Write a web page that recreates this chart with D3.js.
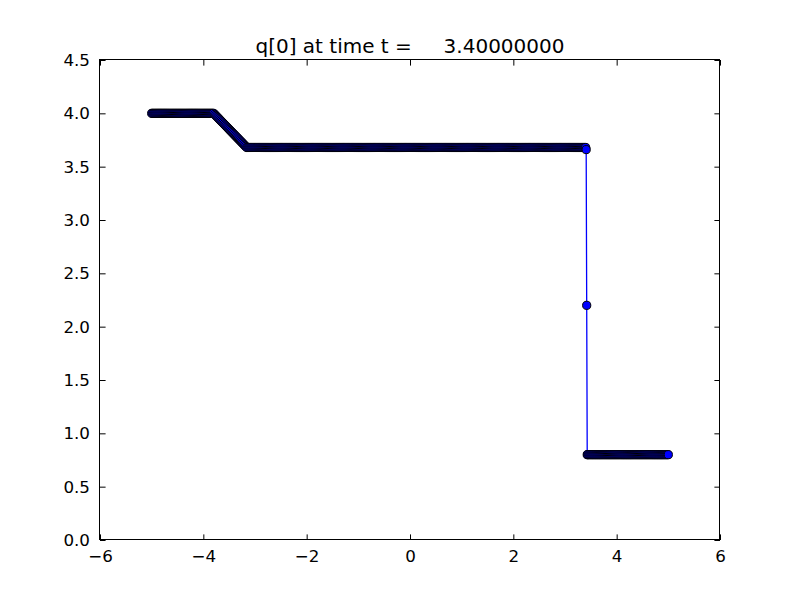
<!DOCTYPE html>
<html>
<head>
<meta charset="utf-8">
<script src="https://cdn.jsdelivr.net/npm/d3@7"></script>
<style>
html,body{margin:0;padding:0;background:#fff;}
svg{display:block;font-family:"DejaVu Sans",sans-serif;}
</style>
</head>
<body>
<svg id="chart" width="800" height="600"></svg>
<script>
const titleText = "q[0] at time t =     3.40000000";
const xTicks = [-6, -4, -2, 0, 2, 4, 6];
const yTicks = [0.0, 0.5, 1.0, 1.5, 2.0, 2.5, 3.0, 3.5, 4.0, 4.5];

const xs = [
-5.00,-4.98,-4.96,-4.94,-4.92,-4.90,-4.88,-4.86,-4.84,-4.82,-4.80,-4.78,-4.76,-4.74,-4.72,-4.70,-4.68,-4.66,-4.64,-4.62,-4.60,-4.58,-4.56,-4.54,-4.52,-4.50,-4.48,-4.46,-4.44,-4.42,-4.40,-4.38,-4.36,-4.34,-4.32,-4.30,-4.28,-4.26,-4.24,-4.22,-4.20,-4.18,-4.16,-4.14,-4.12,-4.10,-4.08,-4.06,-4.04,-4.02,
-4.00,-3.98,-3.96,-3.94,-3.92,-3.90,-3.88,-3.86,-3.84,-3.82,-3.80,-3.78,-3.76,-3.74,-3.72,-3.70,-3.68,-3.66,-3.64,-3.62,-3.60,-3.58,-3.56,-3.54,-3.52,-3.50,-3.48,-3.46,-3.44,-3.42,-3.40,-3.38,-3.36,-3.34,-3.32,-3.30,-3.28,-3.26,-3.24,-3.22,-3.20,-3.18,-3.16,-3.14,-3.12,-3.10,-3.08,-3.06,-3.04,-3.02,
-3.00,-2.98,-2.96,-2.94,-2.92,-2.90,-2.88,-2.86,-2.84,-2.82,-2.80,-2.78,-2.76,-2.74,-2.72,-2.70,-2.68,-2.66,-2.64,-2.62,-2.60,-2.58,-2.56,-2.54,-2.52,-2.50,-2.48,-2.46,-2.44,-2.42,-2.40,-2.38,-2.36,-2.34,-2.32,-2.30,-2.28,-2.26,-2.24,-2.22,-2.20,-2.18,-2.16,-2.14,-2.12,-2.10,-2.08,-2.06,-2.04,-2.02,
-2.00,-1.98,-1.96,-1.94,-1.92,-1.90,-1.88,-1.86,-1.84,-1.82,-1.80,-1.78,-1.76,-1.74,-1.72,-1.70,-1.68,-1.66,-1.64,-1.62,-1.60,-1.58,-1.56,-1.54,-1.52,-1.50,-1.48,-1.46,-1.44,-1.42,-1.40,-1.38,-1.36,-1.34,-1.32,-1.30,-1.28,-1.26,-1.24,-1.22,-1.20,-1.18,-1.16,-1.14,-1.12,-1.10,-1.08,-1.06,-1.04,-1.02,
-1.00,-0.98,-0.96,-0.94,-0.92,-0.90,-0.88,-0.86,-0.84,-0.82,-0.80,-0.78,-0.76,-0.74,-0.72,-0.70,-0.68,-0.66,-0.64,-0.62,-0.60,-0.58,-0.56,-0.54,-0.52,-0.50,-0.48,-0.46,-0.44,-0.42,-0.40,-0.38,-0.36,-0.34,-0.32,-0.30,-0.28,-0.26,-0.24,-0.22,-0.20,-0.18,-0.16,-0.14,-0.12,-0.10,-0.08,-0.06,-0.04,-0.02,
0.00,0.02,0.04,0.06,0.08,0.10,0.12,0.14,0.16,0.18,0.20,0.22,0.24,0.26,0.28,0.30,0.32,0.34,0.36,0.38,0.40,0.42,0.44,0.46,0.48,0.50,0.52,0.54,0.56,0.58,0.60,0.62,0.64,0.66,0.68,0.70,0.72,0.74,0.76,0.78,0.80,0.82,0.84,0.86,0.88,0.90,0.92,0.94,0.96,0.98,
1.00,1.02,1.04,1.06,1.08,1.10,1.12,1.14,1.16,1.18,1.20,1.22,1.24,1.26,1.28,1.30,1.32,1.34,1.36,1.38,1.40,1.42,1.44,1.46,1.48,1.50,1.52,1.54,1.56,1.58,1.60,1.62,1.64,1.66,1.68,1.70,1.72,1.74,1.76,1.78,1.80,1.82,1.84,1.86,1.88,1.90,1.92,1.94,1.96,1.98,
2.00,2.02,2.04,2.06,2.08,2.10,2.12,2.14,2.16,2.18,2.20,2.22,2.24,2.26,2.28,2.30,2.32,2.34,2.36,2.38,2.40,2.42,2.44,2.46,2.48,2.50,2.52,2.54,2.56,2.58,2.60,2.62,2.64,2.66,2.68,2.70,2.72,2.74,2.76,2.78,2.80,2.82,2.84,2.86,2.88,2.90,2.92,2.94,2.96,2.98,
3.00,3.02,3.04,3.06,3.08,3.10,3.12,3.14,3.16,3.18,3.20,3.22,3.24,3.26,3.28,3.30,3.32,3.34,3.36,3.38,3.40,3.41,3.42,3.43,3.44,3.46,3.48,3.50,3.52,3.54,3.56,3.58,3.60,3.62,3.64,3.66,3.68,3.70,3.72,3.74,3.76,3.78,3.80,3.82,3.84,3.86,3.88,3.90,3.92,3.94,3.96,3.98,
4.00,4.02,4.04,4.06,4.08,4.10,4.12,4.14,4.16,4.18,4.20,4.22,4.24,4.26,4.28,4.30,4.32,4.34,4.36,4.38,4.40,4.42,4.44,4.46,4.48,4.50,4.52,4.54,4.56,4.58,4.60,4.62,4.64,4.66,4.68,4.70,4.72,4.74,4.76,4.78,4.80,4.82,4.84,4.86,4.88,4.90,4.92,4.94,4.96,4.98,5.00
];
const ys = [
4.00,4.00,4.00,4.00,4.00,4.00,4.00,4.00,4.00,4.00,4.00,4.00,4.00,4.00,4.00,4.00,4.00,4.00,4.00,4.00,4.00,4.00,4.00,4.00,4.00,4.00,4.00,4.00,4.00,4.00,4.00,4.00,4.00,4.00,4.00,4.00,4.00,4.00,4.00,4.00,4.00,4.00,4.00,4.00,4.00,4.00,4.00,4.00,4.00,4.00,
4.00,4.00,4.00,4.00,4.00,4.00,4.00,4.00,4.00,4.00,4.00,3.99,3.98,3.97,3.96,3.95,3.94,3.93,3.92,3.91,3.90,3.89,3.88,3.87,3.86,3.85,3.84,3.83,3.82,3.81,3.80,3.79,3.78,3.77,3.76,3.75,3.74,3.73,3.72,3.71,3.70,3.69,3.68,3.68,3.68,3.68,3.68,3.68,3.68,3.68,
3.68,3.68,3.68,3.68,3.68,3.68,3.68,3.68,3.68,3.68,3.68,3.68,3.68,3.68,3.68,3.68,3.68,3.68,3.68,3.68,3.68,3.68,3.68,3.68,3.68,3.68,3.68,3.68,3.68,3.68,3.68,3.68,3.68,3.68,3.68,3.68,3.68,3.68,3.68,3.68,3.68,3.68,3.68,3.68,3.68,3.68,3.68,3.68,3.68,3.68,
3.68,3.68,3.68,3.68,3.68,3.68,3.68,3.68,3.68,3.68,3.68,3.68,3.68,3.68,3.68,3.68,3.68,3.68,3.68,3.68,3.68,3.68,3.68,3.68,3.68,3.68,3.68,3.68,3.68,3.68,3.68,3.68,3.68,3.68,3.68,3.68,3.68,3.68,3.68,3.68,3.68,3.68,3.68,3.68,3.68,3.68,3.68,3.68,3.68,3.68,
3.68,3.68,3.68,3.68,3.68,3.68,3.68,3.68,3.68,3.68,3.68,3.68,3.68,3.68,3.68,3.68,3.68,3.68,3.68,3.68,3.68,3.68,3.68,3.68,3.68,3.68,3.68,3.68,3.68,3.68,3.68,3.68,3.68,3.68,3.68,3.68,3.68,3.68,3.68,3.68,3.68,3.68,3.68,3.68,3.68,3.68,3.68,3.68,3.68,3.68,
3.68,3.68,3.68,3.68,3.68,3.68,3.68,3.68,3.68,3.68,3.68,3.68,3.68,3.68,3.68,3.68,3.68,3.68,3.68,3.68,3.68,3.68,3.68,3.68,3.68,3.68,3.68,3.68,3.68,3.68,3.68,3.68,3.68,3.68,3.68,3.68,3.68,3.68,3.68,3.68,3.68,3.68,3.68,3.68,3.68,3.68,3.68,3.68,3.68,3.68,
3.68,3.68,3.68,3.68,3.68,3.68,3.68,3.68,3.68,3.68,3.68,3.68,3.68,3.68,3.68,3.68,3.68,3.68,3.68,3.68,3.68,3.68,3.68,3.68,3.68,3.68,3.68,3.68,3.68,3.68,3.68,3.68,3.68,3.68,3.68,3.68,3.68,3.68,3.68,3.68,3.68,3.68,3.68,3.68,3.68,3.68,3.68,3.68,3.68,3.68,
3.68,3.68,3.68,3.68,3.68,3.68,3.68,3.68,3.68,3.68,3.68,3.68,3.68,3.68,3.68,3.68,3.68,3.68,3.68,3.68,3.68,3.68,3.68,3.68,3.68,3.68,3.68,3.68,3.68,3.68,3.68,3.68,3.68,3.68,3.68,3.68,3.68,3.68,3.68,3.68,3.68,3.68,3.68,3.68,3.68,3.68,3.68,3.68,3.68,3.68,
3.68,3.68,3.68,3.68,3.68,3.68,3.68,3.68,3.68,3.68,3.68,3.68,3.68,3.68,3.68,3.68,3.68,3.68,3.68,3.68,3.68,3.66,2.20,0.80,0.80,0.80,0.80,0.80,0.80,0.80,0.80,0.80,0.80,0.80,0.80,0.80,0.80,0.80,0.80,0.80,0.80,0.80,0.80,0.80,0.80,0.80,0.80,0.80,0.80,0.80,0.80,0.80,0.80,0.80,
0.80,0.80,0.80,0.80,0.80,0.80,0.80,0.80,0.80,0.80,0.80,0.80,0.80,0.80,0.80,0.80,0.80,0.80,0.80,0.80,0.80,0.80,0.80,0.80,0.80,0.80,0.80,0.80,0.80,0.80,0.80,0.80,0.80,0.80,0.80,0.80,0.80,0.80,0.80,0.80,0.80,0.80,0.80,0.80,0.80,0.80,0.80,0.80,0.80,0.80,0.80
];

const n = Math.min(xs.length, ys.length);
const data = xs.slice(0, n).map((x, i) => ({x: x, y: ys[i]}));

const W = 800, H = 600;
const m = {left: 100, right: 720, top: 60, bottom: 540};
const svg = d3.select("#chart");

const x = d3.scaleLinear().domain([-6, 6]).range([m.left, m.right]);
const y = d3.scaleLinear().domain([0, 4.5]).range([m.bottom, m.top]);

svg.append("rect").attr("width", W).attr("height", H).attr("fill", "#fff");

const fmtX = d => (d < 0 ? "\u2212" + Math.abs(d) : String(d));
const fmtY = d => d.toFixed(1);

const plot = svg.append("g");
const clip = svg.append("clipPath").attr("id", "clip");
clip.append("rect").attr("x", m.left).attr("y", m.top)
  .attr("width", m.right - m.left).attr("height", m.bottom - m.top);

// line
plot.append("path").datum(data)
  .attr("clip-path", "url(#clip)")
  .attr("fill", "none").attr("stroke", "#0000ff").attr("stroke-width", 1.3)
  .attr("d", d3.line().x(d => x(d.x)).y(d => y(d.y)));

// markers
plot.selectAll("circle").data(data).join("circle")
  .attr("cx", d => x(d.x)).attr("cy", d => y(d.y)).attr("r", 4.1)
  .attr("fill", "#0000ff").attr("stroke", "#000").attr("stroke-width", 1.0);

// axes (ticks inward, on all sides)
const tl = 5.6;
const axB = d3.axisBottom(x).tickValues(xTicks).tickSizeInner(-tl).tickSizeOuter(0).tickPadding(10).tickFormat(fmtX);
const axT = d3.axisTop(x).tickValues(xTicks).tickSizeInner(-tl).tickSizeOuter(0).tickFormat("");
const axL = d3.axisLeft(y).tickValues(yTicks).tickSizeInner(-tl).tickSizeOuter(0).tickPadding(10).tickFormat(fmtY);
const axR = d3.axisRight(y).tickValues(yTicks).tickSizeInner(-tl).tickSizeOuter(0).tickFormat("");

function style(g) {
  g.select(".domain").remove();
  g.selectAll("line").attr("stroke", "#000").attr("stroke-width", 1);
  g.selectAll("text").attr("fill", "#000").attr("font-size", "16.7px")
    .attr("font-family", "'DejaVu Sans', sans-serif");
}
svg.append("g").attr("transform", `translate(0,${m.bottom})`).call(axB).call(style);
svg.append("g").attr("transform", `translate(0,${m.top})`).call(axT).call(style);
svg.append("g").attr("transform", `translate(${m.left},0)`).call(axL).call(style);
svg.append("g").attr("transform", `translate(${m.right},0)`).call(axR).call(style);

// frame
svg.append("rect").attr("x", m.left - 0.5).attr("y", m.top - 0.5)
  .attr("width", m.right - m.left).attr("height", m.bottom - m.top)
  .attr("fill", "none").attr("stroke", "#000").attr("stroke-width", 1);

// title
svg.append("text").attr("x", (m.left + m.right) / 2).attr("y", 53)
  .attr("text-anchor", "middle").attr("font-size", "20px")
  .attr("font-family", "'DejaVu Sans', sans-serif").attr("fill", "#000")
  .attr("xml:space", "preserve").style("white-space", "pre")
  .text(titleText);
</script>
</body>
</html>
